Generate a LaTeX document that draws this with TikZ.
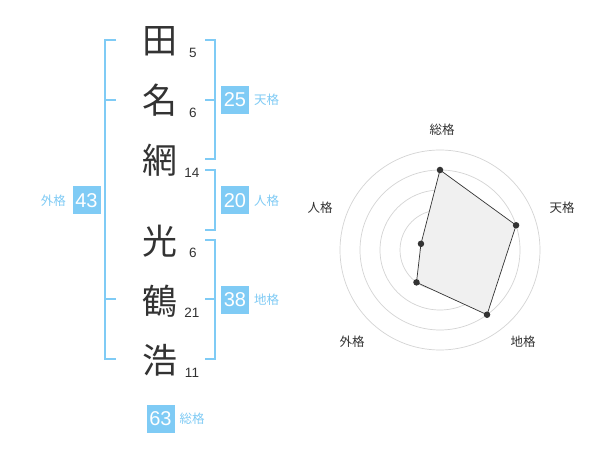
\documentclass[tikz,border=0pt]{standalone}
\usepackage{fontspec}
\usetikzlibrary{calc}
\setmainfont{Liberation Sans}
\newfontfamily\cjk{Noto Sans CJK JP}
\definecolor{kblue}{RGB}{127,203,245}
\definecolor{ink}{RGB}{51,51,51}
\begin{document}
\begin{tikzpicture}[x=1pt,y=-1pt,
 kanji/.style={font=\cjk\fontsize{35}{35}\selectfont, text=ink, inner sep=0pt},
 strokes/.style={font=\fontsize{13.5}{13.5}\selectfont, text=ink, inner sep=0pt},
 valbox/.style={fill=kblue, text=white, font=\fontsize{20}{20}\selectfont, minimum width=28pt, minimum height=28pt, inner sep=0pt},
 kaku/.style={font=\cjk\fontsize{12.5}{12.5}\selectfont, text=kblue, inner sep=0pt},
 bracket/.style={draw=kblue, line width=2pt},
 ring/.style={draw=black!17, line width=0.7pt},
 axislabel/.style={font=\cjk\fontsize{12.5}{12.5}\selectfont, text=ink, inner sep=0pt},
 dot/.style={circle, fill=ink, inner sep=0pt, minimum size=6.5pt}
]
\useasboundingbox[fill=white] (0,0) rectangle (600,470);

% kanji
\node[kanji] (k1) at (160,41) {田};
\node[kanji] (k2) at (160,100) {名};
\node[kanji] (k3) at (160,160) {網};
\node[kanji] (k4) at (160,241) {光};
\node[kanji] (k5) at (160,301) {鶴};
\node[kanji] (k6) at (160,360) {浩};

% stroke counts
\node[strokes] (s1) at (193,53) {5};
\node[strokes] (s2) at (193,113) {6};
\node[strokes] (s3) at (192,173) {14};
\node[strokes] (s4) at (193,253) {6};
\node[strokes] (s5) at (192,313) {21};
\node[strokes] (s6) at (192,373) {11};

% brackets
\draw[bracket] (116,40) -- (105,40) -- (105,359.5) -- (116,359.5);
\draw[bracket] (105,100) -- (116,100);
\draw[bracket] (105,299.5) -- (116,299.5);

\draw[bracket] (205,40) -- (215,40) -- (215,159.5) -- (205,159.5);
\draw[bracket] (205,100) -- (215,100);

\draw[bracket] (205,170) -- (215,170) -- (215,230) -- (205,230);

\draw[bracket] (205,240) -- (215,240) -- (215,359.5) -- (205,359.5);
\draw[bracket] (205,299.5) -- (215,299.5);

% value boxes
\node[valbox] (ten) at (235,100) {25};
\node[kaku, anchor=west] (tenl) at (254,100) {天格};
\node[valbox] (jin) at (235,200.5) {20};
\node[kaku, anchor=west] (jinl) at (254,200.5) {人格};
\node[valbox] (chi) at (235,300) {38};
\node[kaku, anchor=west] (chil) at (254,300) {地格};
\node[valbox] (gai) at (86.5,200.5) {43};
\node[kaku, anchor=east] (gail) at (66,200.5) {外格};
\node[valbox] (sou) at (160.5,419) {63};
\node[kaku, anchor=west] (soul) at (179.5,419) {総格};

% radar chart
\coordinate (c) at (440,250);
\foreach \r in {20,40,60,80,100} \draw[ring] (c) circle[radius=\r];
\fill[black!20] (c) circle[radius=4];

\coordinate (pS) at ($(c)+(-90:80)$);
\coordinate (pT) at ($(c)+(-18:80)$);
\coordinate (pC) at ($(c)+(54:80)$);
\coordinate (pG) at ($(c)+(126:40)$);
\coordinate (pJ) at ($(c)+(198:20)$);
\filldraw[fill=black!6, draw=ink, line width=0.7pt] (pS) -- (pT) -- (pC) -- (pG) -- (pJ) -- cycle;
\foreach \p in {pS,pT,pC,pG,pJ} \node[dot] at (\p) {};

\node[axislabel] (lS) at (442,130) {総格};
\node[axislabel] (lT) at (562,208) {天格};
\node[axislabel] (lC) at (523,342) {地格};
\node[axislabel] (lG) at (352,342) {外格};
\node[axislabel] (lJ) at (320,208) {人格};
\end{tikzpicture}
\end{document}
